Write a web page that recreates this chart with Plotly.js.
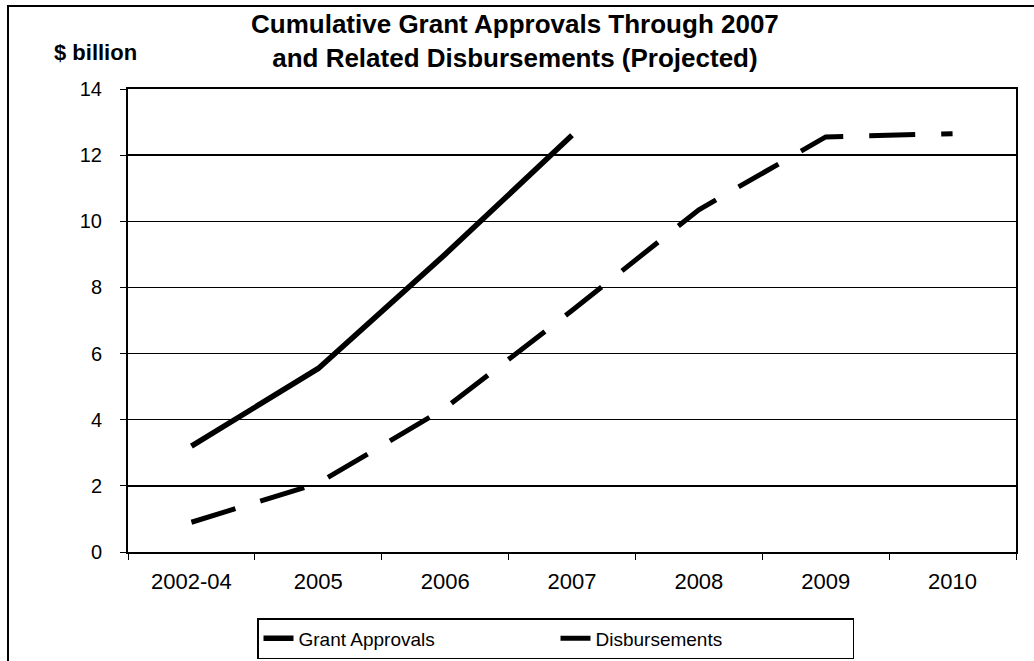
<!DOCTYPE html>
<html>
<head>
<meta charset="utf-8">
<script src="https://cdn.plot.ly/plotly-3.0.1.min.js"></script>
<style>
  html, body { margin: 0; padding: 0; background: #fff; }
  #frame { position: absolute; left: 7px; top: 5px; width: 1040px; height: 680px; border: 2px solid #000; }
  #chart { position: absolute; left: 0; top: 0; width: 1034px; height: 661px; }
</style>
</head>
<body>
<div id="frame"></div>
<div id="chart"></div>
<script>
const categories = ["2002-04", "2005", "2006", "2007", "2008", "2009", "2010"];
const grantApprovals = [3.2, 5.55, 9.0, 12.6, null, null, null];
const disbursements = [0.9, 2.08, 4.35, 7.3, 10.35, 12.55, 12.65];
const yTicks = [0, 2, 4, 6, 8, 10, 12, 14];

const FONT = "Liberation Sans, Arial, sans-serif";

const traces = [
  {
    x: categories, y: grantApprovals, name: "Grant Approvals",
    type: "scatter", mode: "lines",
    line: { color: "#000", width: 5.5 },
    connectgaps: false, hoverinfo: "skip"
  },
  {
    x: categories, y: disbursements, name: "Disbursements",
    type: "scatter", mode: "lines",
    line: { color: "#000", width: 5, dash: "46px,26px" },
    hoverinfo: "skip"
  }
];

const layout = {
  width: 1034, height: 661,
  paper_bgcolor: "rgba(0,0,0,0)", plot_bgcolor: "#fff",
  margin: { l: 128, r: 18, t: 89, b: 109 },
  font: { family: FONT, color: "#000" },
  title: {
    text: "<b>Cumulative Grant Approvals Through 2007<br>and Related Disbursements (Projected)</b>",
    font: { family: FONT, size: 26, color: "#000" },
    xref: "container", x: 0.498, xanchor: "center",
    yref: "container", y: 0.95, yanchor: "top"
  },
  xaxis: {
    type: "category", categoryorder: "array", categoryarray: categories,
    range: [-0.5, 6.5],
    showgrid: false, zeroline: false,
    showline: true, linecolor: "#000", linewidth: 2, mirror: true,
    ticks: "outside", tickson: "boundaries", ticklen: 6, tickwidth: 1, tickcolor: "#000",
    tickfont: { family: FONT, size: 22, color: "#000" },
    ticklabelstandoff: 9,
    fixedrange: true
  },
  yaxis: {
    range: [0, 14], tickvals: yTicks, ticktext: yTicks.map(String),
    showgrid: true, gridcolor: "#000", gridwidth: 1.3,
    zeroline: false,
    showline: true, linecolor: "#000", linewidth: 2, mirror: true,
    ticks: "outside", ticklen: 6, tickwidth: 1, tickcolor: "#000",
    tickfont: { family: FONT, size: 20, color: "#000" },
    ticklabelstandoff: 14,
    fixedrange: true
  },
  showlegend: true,
  legend: {
    orientation: "h",
    xref: "container", yref: "container",
    x: 257 / 1034, xanchor: "left",
    y: 1 - 618 / 661, yanchor: "top",
    bordercolor: "#000", borderwidth: 1.5, bgcolor: "#fff",
    font: { family: FONT, size: 19, color: "#000" },
    itemwidth: 30, tracegroupgap: 0,
    entrywidth: 252, entrywidthmode: "pixels"
  },
  annotations: [
    {
      text: "<b>$ billion</b>", xref: "paper", yref: "paper",
      x: (95 - 128) / 888, y: (552 - 52) / 463,
      xanchor: "center", yanchor: "middle", showarrow: false,
      font: { family: FONT, size: 22, color: "#000" }
    }
  ]
};

Plotly.newPlot("chart", traces, layout, { displayModeBar: false, staticPlot: true });
</script>
</body>
</html>
